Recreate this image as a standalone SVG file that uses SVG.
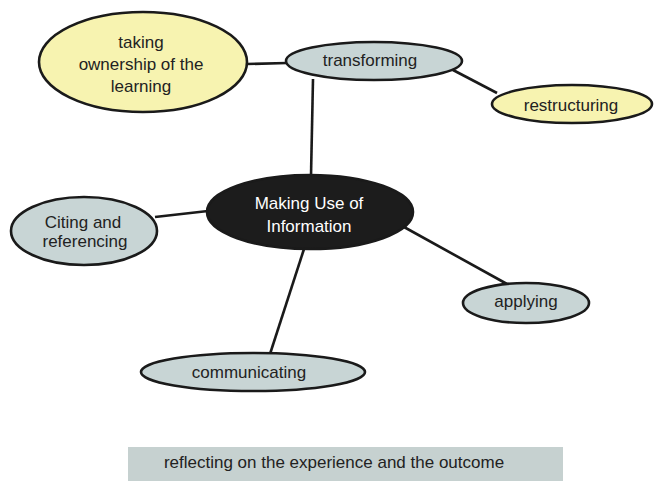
<svg xmlns="http://www.w3.org/2000/svg" width="654" height="482" viewBox="0 0 654 482">
<style>
.n{stroke:#1a1a1a;stroke-width:2.6}
.y{fill:#f7f3b0}
.g{fill:#c8d5d5}
.c{fill:#1c1c1c}
.t{font-family:"Liberation Sans",Arial,sans-serif;font-size:17px;fill:#222222;text-anchor:middle}
.w{fill:#ffffff}
.e{stroke:#1a1a1a;stroke-width:2.6;fill:none}
</style>
<rect width="654" height="482" fill="#ffffff"/>
<g id="connectors">
<line class="e" x1="247" y1="64" x2="287" y2="63"/>
<line class="e" x1="313" y1="79" x2="311" y2="176"/>
<line class="e" x1="453" y1="70" x2="497" y2="93"/>
<line class="e" x1="155" y1="217" x2="208" y2="211"/>
<line class="e" x1="404" y1="227" x2="507" y2="284"/>
<line class="e" x1="304" y1="249" x2="270" y2="354"/>
</g>
<g id="ownership">
<ellipse class="n y" cx="143" cy="62" rx="104" ry="50"/>
<text class="t" x="141" y="48">taking</text>
<text class="t" x="141" y="70">ownership of the</text>
<text class="t" x="141" y="92">learning</text>
</g>
<g id="transforming">
<ellipse class="n g" cx="374" cy="61" rx="88" ry="19"/>
<text class="t" x="370" y="66">transforming</text>
</g>
<g id="restructuring">
<ellipse class="n y" cx="572" cy="104" rx="80" ry="19"/>
<text class="t" x="571" y="111">restructuring</text>
</g>
<g id="center">
<ellipse class="n c" cx="310" cy="212" rx="103" ry="37"/>
<text class="t w" x="309" y="209">Making Use of</text>
<text class="t w" x="309" y="232">Information</text>
</g>
<g id="citing">
<ellipse class="n g" cx="84" cy="231" rx="73" ry="34"/>
<text class="t" x="83" y="228">Citing and</text>
<text class="t" x="85" y="247">referencing</text>
</g>
<g id="applying">
<ellipse class="n g" cx="526" cy="303" rx="63" ry="20"/>
<text class="t" x="526" y="307">applying</text>
</g>
<g id="communicating">
<ellipse class="n g" cx="253" cy="372" rx="112" ry="19"/>
<text class="t" x="249" y="378">communicating</text>
</g>
<g id="reflecting">
<rect x="128" y="447" width="435" height="34" fill="#c6d1d0"/>
<text class="t" x="334" y="468">reflecting on the experience and the outcome</text>
</g>
</svg>
